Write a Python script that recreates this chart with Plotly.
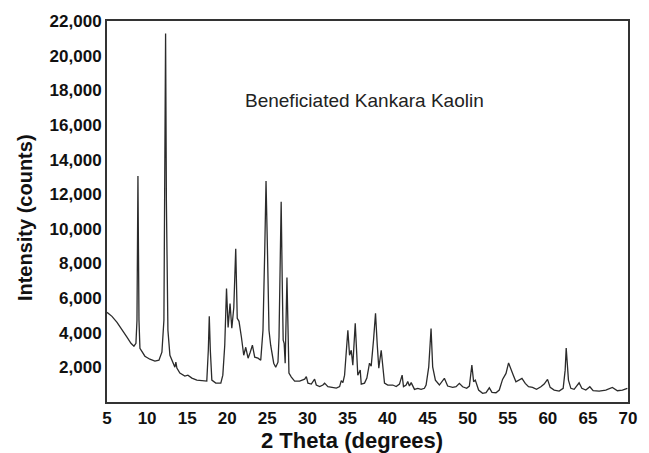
import plotly.graph_objects as go

# 2-theta positions (degrees)
two_theta = [
    5.00, 5.62, 6.25, 6.87, 7.49, 7.99, 8.36, 8.61, 8.74, 8.86, 8.99, 9.11, 9.73, 10.35, 10.98,
    11.48, 11.85, 12.10, 12.22, 12.31, 12.41, 12.60, 12.85, 13.22, 13.47, 13.59, 13.72, 14.09,
    14.71, 15.09, 15.59, 16.21, 16.96, 17.45, 17.64, 17.76, 17.89, 18.08, 18.57, 19.20, 19.45,
    19.69, 19.91, 20.11, 20.35, 20.57, 20.82, 21.06, 21.25, 21.47, 21.77, 22.06, 22.31, 22.60,
    22.87, 23.14, 23.43, 23.84, 24.18, 24.46, 24.68, 24.84, 25.02, 25.21, 25.42, 25.80, 26.05,
    26.33, 26.46, 26.60, 26.73, 26.86, 26.98, 27.10, 27.23, 27.45, 27.70, 28.00, 28.41, 29.03,
    29.28, 29.66, 29.87, 30.07, 30.49, 30.90, 31.11, 31.53, 31.94, 32.15, 32.56, 32.98, 33.61,
    34.02, 34.23, 34.43, 34.64, 35.05, 35.26, 35.47, 35.67, 35.97, 36.29, 36.59, 36.72, 37.13,
    37.42, 37.75, 37.96, 38.25, 38.50, 38.72, 38.91, 39.21, 39.43, 39.62, 40.03, 40.65, 41.08,
    41.49, 41.82, 41.99, 42.32, 42.52, 42.73, 42.95, 43.36, 43.77, 44.19, 44.60, 44.81, 45.14,
    45.43, 45.63, 45.97, 46.47, 47.09, 47.50, 48.13, 48.55, 48.96, 49.37, 49.87, 50.21, 50.52,
    50.74, 50.95, 51.36, 51.86, 52.29, 52.70, 53.03, 53.53, 53.94, 54.35, 54.78, 55.10, 55.40,
    55.69, 56.02, 56.35, 56.77, 57.18, 57.59, 58.09, 58.59, 59.13, 59.54, 59.96, 60.29, 60.79,
    61.41, 61.91, 62.16, 62.29, 62.44, 62.57, 62.87, 63.28, 63.90, 64.24, 64.74, 65.24, 65.65,
    66.40, 67.23, 68.05, 68.68, 69.30, 69.92,
]

# Intensity (counts)
intensity = [
    5175, 4945, 4600, 4200, 3740, 3390, 3220, 3390, 4715, 13050, 4715, 3105, 2645, 2470, 2360,
    2415, 2875, 4715, 11615, 21275, 11615, 4140, 2700, 2240, 2010, 2300, 1960, 1670,
    1495, 1550, 1380, 1265, 1210, 1210, 2990, 4945, 2990, 1265, 1090, 1090, 1550,
    3280, 6555, 4310, 5690, 4255, 5460, 8855, 4830, 4660, 3740, 2700, 3160, 2530,
    2875, 3280, 2590, 2530, 2415, 4140, 8740, 12765, 8740, 4140, 3280, 2240, 2010,
    2300, 3740, 8165, 11560, 7015, 3565, 3390, 2240, 7190, 1670, 1440, 1210, 1210,
    1265, 1320, 1465, 1090, 1035, 1320, 980, 890, 980, 1090, 890, 860, 805,
    890, 1235, 1120, 1550, 4140, 2700, 2990, 2130, 4540, 1550, 1840, 1035, 1090,
    1380, 2240, 2070, 3565, 5120, 3280, 1955, 2990, 2130, 1090, 980, 980, 890,
    1035, 1550, 890, 980, 1180, 920, 1120, 730, 790, 730, 790, 980, 2030,
    4240, 2030, 1265, 980, 1365, 920, 845, 880, 1075, 880, 790, 920, 2130,
    1170, 1265, 690, 500, 535, 820, 560, 535, 690, 1305, 1650, 2260, 1940,
    1550, 1170, 1265, 1365, 1075, 880, 845, 730, 880, 1035, 1305, 845, 690,
    630, 790, 1840, 3120, 1840, 1265, 790, 730, 1110, 790, 690, 880, 650,
    630, 690, 845, 650, 690, 790,
]

x_ticks = [5, 10, 15, 20, 25, 30, 35, 40, 45, 50, 55, 60, 65, 70]
y_ticks = [2000, 4000, 6000, 8000, 10000, 12000, 14000, 16000, 18000, 20000, 22000]

FONT = "Liberation Sans, Arial, sans-serif"
AX = "#333333"
PLOT_L, PLOT_R, PLOT_T, PLOT_B = 107, 629, 19, 402

fig = go.Figure()
fig.add_trace(go.Scatter(
    x=two_theta, y=intensity, mode="lines",
    line=dict(color="#2b2b2b", width=1.3),
    showlegend=False,
))

fig.add_annotation(
    x=37.1, y=17400, xref="x", yref="y",
    text="Beneficiated Kankara Kaolin", showarrow=False,
    font=dict(family=FONT, size=19, color="#222222"),
)

# x-axis title
fig.add_annotation(
    x=(352 - PLOT_L) / (PLOT_R - PLOT_L), y=0, xref="paper", yref="paper",
    yshift=-38, yanchor="middle", showarrow=False,
    text="<b>2 Theta (degrees)</b>",
    font=dict(family=FONT, size=22, color="#111111"),
)

# y-axis title
fig.add_annotation(
    x=(25 - PLOT_L) / (PLOT_R - PLOT_L), y=(PLOT_B - 217) / (PLOT_B - PLOT_T),
    xref="paper", yref="paper", textangle=-90, showarrow=False,
    xanchor="center", yanchor="middle",
    text="<b>Intensity (counts)</b>",
    font=dict(family=FONT, size=20, color="#111111"),
)

fig.update_layout(
    width=649, height=453,
    margin=dict(l=PLOT_L, r=649 - PLOT_R, t=PLOT_T, b=453 - PLOT_B),
    paper_bgcolor="white", plot_bgcolor="white",
    font=dict(family=FONT, color="#111111"),
)
fig.update_xaxes(
    range=[5, 70], tickvals=x_ticks, ticktext=[str(v) for v in x_ticks],
    showgrid=False, zeroline=False, showline=True, linecolor=AX, linewidth=2,
    mirror=True, ticks="",
    tickfont=dict(family=FONT, size=17, color="#111111", weight="bold"),
)
fig.update_yaxes(
    range=[0, 22000], tickvals=y_ticks, tickformat=",d",
    showgrid=False, zeroline=False, showline=True, linecolor=AX, linewidth=2,
    mirror=True, ticks="",
    tickfont=dict(family=FONT, size=17, color="#111111", weight="bold"),
)

fig.write_html("out.html")
